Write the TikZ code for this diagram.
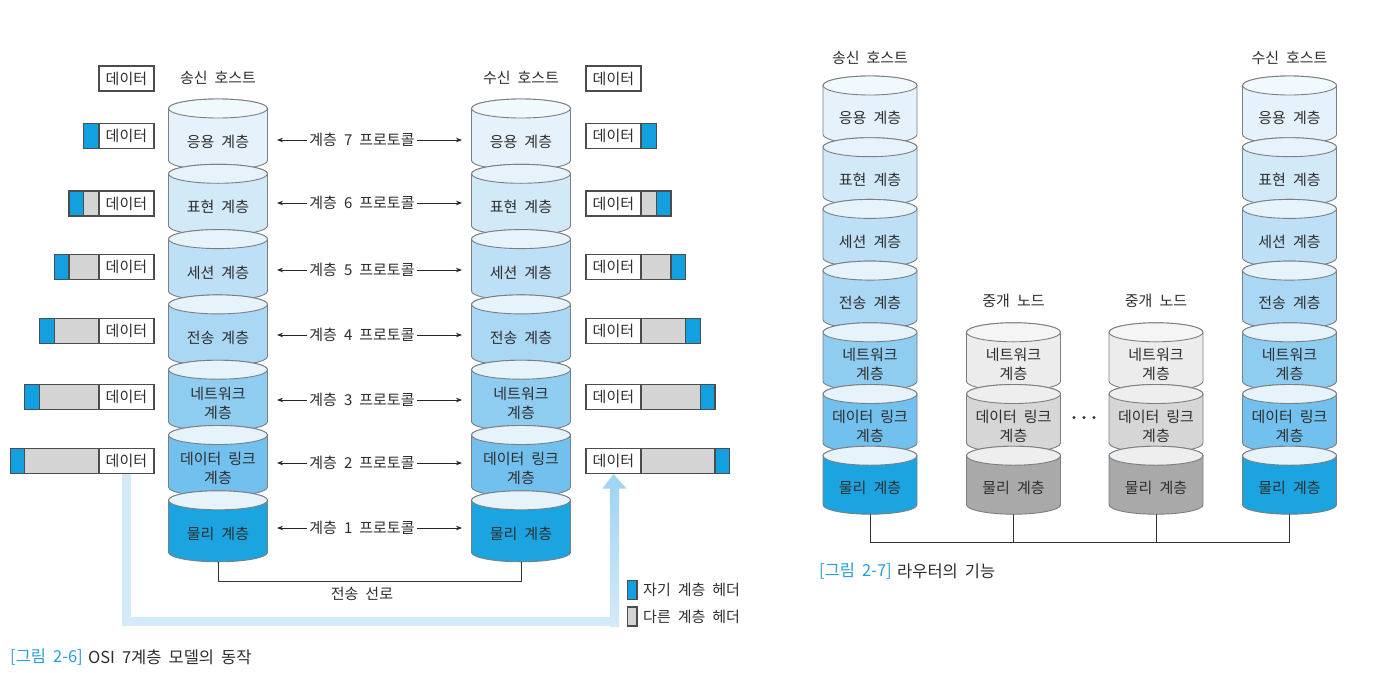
\documentclass[tikz,border=0pt]{standalone}
\usepackage{fontspec}
\setmainfont{Noto Sans CJK KR}
\usetikzlibrary{arrows.meta}
\definecolor{txt}{HTML}{2E2E2E}
\definecolor{cyll}{HTML}{7A7F84}
\definecolor{bA}{HTML}{E6F2FB}
\definecolor{bB}{HTML}{D2E9F8}
\definecolor{bC}{HTML}{BEE0F6}
\definecolor{bD}{HTML}{AAD7F3}
\definecolor{bE}{HTML}{8ECCF0}
\definecolor{bF}{HTML}{72C0EE}
\definecolor{bG}{HTML}{1BA4DF}
\definecolor{tA}{HTML}{F2F9FD}
\definecolor{tB}{HTML}{E6F3FB}
\definecolor{gA}{HTML}{ECECEC}
\definecolor{gB}{HTML}{D6D6D6}
\definecolor{gC}{HTML}{A9A9A9}
\definecolor{gtA}{HTML}{F5F5F5}
\definecolor{gtB}{HTML}{EEEEEE}
\definecolor{hblue}{HTML}{12A0E0}
\definecolor{hgray}{HTML}{D4D4D4}
\definecolor{pathb}{HTML}{D3EAF9}
\definecolor{pathd}{HTML}{A2D5F3}
\definecolor{capb}{HTML}{2A9FD8}
\newcommand\mycyl[6]{%
  \pgfmathsetmacro\cyA{#2+9.5}%
  \pgfmathsetmacro\cyB{#2+#3-9.5}%
  \filldraw[cylline, fill=#5] (#1-#4,\cyA) -- (#1-#4,\cyB)
    arc[start angle=180, end angle=0, x radius=#4, y radius=9.5]
    -- (#1+#4,\cyA)
    arc[start angle=0, end angle=-180, x radius=#4, y radius=9.5] -- cycle;
  \filldraw[cylline, fill=#6] (#1,\cyA) ellipse[x radius=#4, y radius=9.5];
}
\newcommand\wsp{\spaceskip=7pt plus 1pt minus 1pt\relax}
\begin{document}
\begin{tikzpicture}[x=1pt,y=-1pt,
  cylline/.style={draw=cyll, line width=0.9pt},
  lbl/.style={text=txt, font=\fontsize{15}{19}\selectfont\wsp, align=center, inner sep=1pt},
  parr/.style={draw=black!85, line width=0.8pt, -{Stealth[length=6pt,width=4.5pt]}},
  dbox/.style={draw=black!70, line width=1.2pt, fill=white, minimum width=55pt, minimum height=25pt, inner sep=0pt, text=txt, font=\fontsize{15}{16}\selectfont},
  hdr/.style={draw=black!70, line width=1.2pt},
  conn/.style={draw=black!80, line width=1pt},
  capt/.style={font=\fontsize{16.5}{19}\selectfont\wsp, inner sep=0pt, anchor=west}
]
\useasboundingbox (0,0) rectangle (1396,672);
\fill[white] (0,0) rectangle (1396,672);

% ---------------- Left figure: stacks ----------------
\foreach \i/\bc/\tc in {0/bA/tA,1/bB/tB,2/bC/tB,3/bD/tB,4/bE/tB,5/bF/tB,6/bG/tB}{
  \pgfmathsetmacro\ttop{99+65.3*\i}
  \mycyl{218}{\ttop}{71}{49.5}{\bc}{\tc}
  \mycyl{521}{\ttop}{71}{49.5}{\bc}{\tc}
}
\foreach \i/\nm in {0/{응용 계층},1/{표현 계층},2/{세션 계층},3/{전송 계층},4/{네트워크\\계층},5/{데이터 링크\\계층},6/{물리 계층}}{
  \pgfmathsetmacro\yy{99+65.3*\i+43}
  \node[lbl] (sL\i) at (218,\yy) {\nm};
  \node[lbl] (rL\i) at (521,\yy) {\nm};
}
\node[lbl] (hsL) at (218,78) {송신 호스트};
\node[lbl] (hrL) at (521,78) {수신 호스트};

% protocol arrows
\foreach \n/\y in {7/140,6/203,5/270,4/335,3/400,2/463,1/528}{
  \node[lbl, fill=white, inner xsep=2pt] (p\n) at (362,\y) {계층 \n\ 프로토콜};
  \coordinate (pl\n) at (277,\y);
  \coordinate (pr\n) at (462,\y);
  \draw[parr] (p\n.west) -- (pl\n);
  \draw[parr] (p\n.east) -- (pr\n);
}

% data boxes, sender side (headers grow to the left)
\foreach \k/\y in {0/78.5,1/136,2/203.5,3/267,4/331,5/397,6/461}{
  \ifnum\k>1
    \filldraw[hdr, fill=hgray] ({98.3-14.7*(\k-1)},\y-12.5) rectangle (98.3,\y+12.5);
  \fi
  \ifnum\k>0
    \filldraw[hdr, fill=hblue] ({98.3-14.7*\k},\y-12.5) rectangle ({98.3-14.7*(\k-1)},\y+12.5);
  \fi
  \node[dbox, anchor=west] (dL\k) at (98.3,\y) {데이터};
}
% data boxes, receiver side (headers grow to the right)
\foreach \k/\y in {0/78.5,1/136,2/203.5,3/267,4/331,5/397,6/461}{
  \ifnum\k>1
    \filldraw[hdr, fill=hgray] (641.5,\y-12.5) rectangle ({641.5+14.7*(\k-1)},\y+12.5);
  \fi
  \ifnum\k>0
    \filldraw[hdr, fill=hblue] ({641.5+14.7*(\k-1)},\y-12.5) rectangle ({641.5+14.7*\k},\y+12.5);
  \fi
  \node[dbox, anchor=east] (dR\k) at (641.5,\y) {데이터};
}

% transmission line
\coordinate (bL) at (218,562);
\coordinate (bR) at (521,562);
\coordinate (busL) at (0,581);
\draw[conn] (bL) -- (bL |- busL) -- (bR |- busL) -- (bR);
\node[lbl] (tline) at (362,594) {전송 선로};

% light blue flow path
\coordinate (flowY) at (0,621.5);
\coordinate (arrB) at (614.5,488);
\draw[pathb, line width=9pt] (dL6.south) -- (dL6.south |- flowY) -- (arrB |- flowY);
\shade[bottom color=pathb, top color=pathd] (610,626) rectangle (619,487);
\fill[pathd] (602.5,488.5) -- (dR6.south) -- (626.5,488.5) -- cycle;

% legend
\filldraw[hdr, fill=hblue] (627.5,580.5) rectangle (637,599.5);
\filldraw[hdr, fill=hgray] (627.5,607) rectangle (637,626);
\node[lbl, anchor=west] (lg1) at (642,590) {자기 계층 헤더};
\node[lbl, anchor=west] (lg2) at (642,617) {다른 계층 헤더};

% caption
\node[capt, text=capb] (c1a) at (10,657) {[그림 2-6]};
\node[capt, text=txt, anchor=west] (c1b) at ([xshift=5pt]c1a.east) {OSI 7계층 모델의 동작};

% ---------------- Right figure ----------------
\foreach \i/\bc/\tc in {0/bA/tA,1/bB/tB,2/bC/tB,3/bD/tB,4/bE/tB,5/bF/tB,6/bG/tB}{
  \pgfmathsetmacro\ttop{76+61.7*\i}
  \mycyl{870}{\ttop}{68}{47}{\bc}{\tc}
  \mycyl{1289.5}{\ttop}{68}{47}{\bc}{\tc}
}
\foreach \i/\bc/\tc in {4/gA/gtA,5/gB/gtB,6/gC/gtB}{
  \pgfmathsetmacro\ttop{76+61.7*\i}
  \mycyl{1013.5}{\ttop}{68}{47}{\bc}{\tc}
  \mycyl{1156}{\ttop}{68}{47}{\bc}{\tc}
}
\foreach \i/\nm in {0/{응용 계층},1/{표현 계층},2/{세션 계층},3/{전송 계층},4/{네트워크\\계층},5/{데이터 링크\\계층},6/{물리 계층}}{
  \pgfmathsetmacro\yy{76+61.7*\i+42}
  \node[lbl] (sR\i) at (870,\yy) {\nm};
  \node[lbl] (rR\i) at (1289.5,\yy) {\nm};
}
\foreach \i/\nm in {4/{네트워크\\계층},5/{데이터 링크\\계층},6/{물리 계층}}{
  \pgfmathsetmacro\yy{76+61.7*\i+42}
  \node[lbl] (mA\i) at (1013.5,\yy) {\nm};
  \node[lbl] (mB\i) at (1156,\yy) {\nm};
}
\node[lbl] (hsR) at (870,58) {송신 호스트};
\node[lbl] (hrR) at (1289.5,58) {수신 호스트};
\node[lbl] (hm1) at (1013.5,301) {중개 노드};
\node[lbl] (hm2) at (1156,301) {중개 노드};
\coordinate (dots) at (1084,417.5);
\foreach \dx in {-10,0,10}{
  \fill[txt] ([xshift=\dx pt]dots) circle[radius=1.7];
}

\coordinate (b1) at (870,514);
\coordinate (b2) at (1013.5,514);
\coordinate (b3) at (1156,514);
\coordinate (b4) at (1289.5,514);
\coordinate (busR) at (0,542);
\draw[conn] (b1) -- (b1 |- busR) -- (b4 |- busR) -- (b4);
\draw[conn] (b2) -- (b2 |- busR);
\draw[conn] (b3) -- (b3 |- busR);

\node[capt, text=capb] (c2a) at (819,571) {[그림 2-7]};
\node[capt, text=txt, anchor=west] (c2b) at ([xshift=5pt]c2a.east) {라우터의 기능};
\end{tikzpicture}
\end{document}
